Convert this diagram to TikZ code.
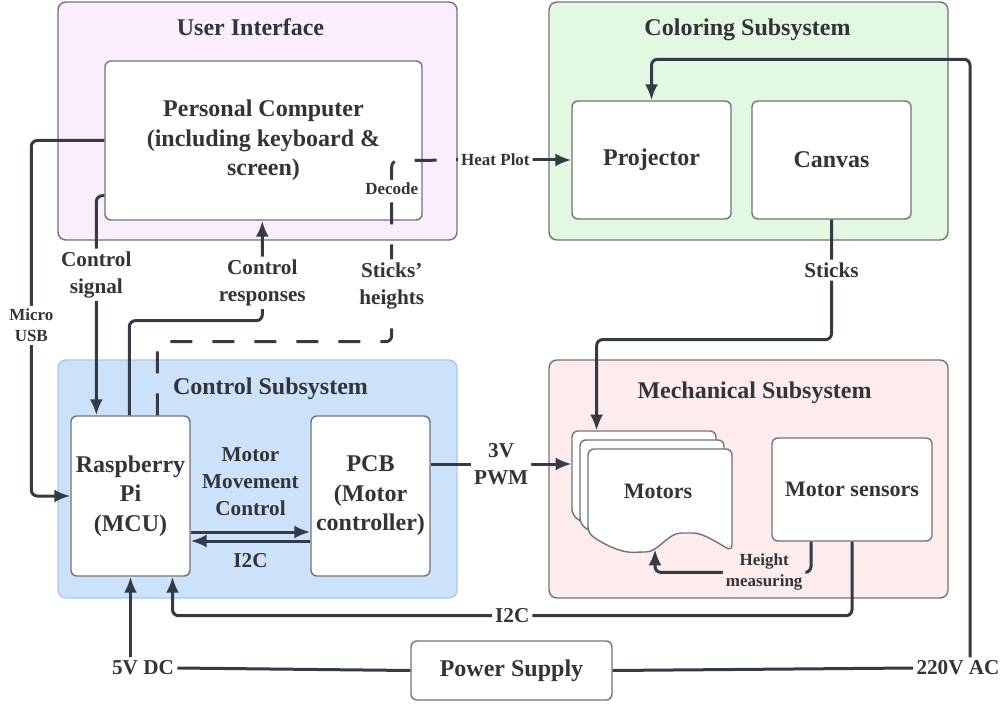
\documentclass[tikz,border=0pt]{standalone}
\usepackage{fontspec}
\setmainfont{Liberation Serif}
\usepackage{xcolor}
\usetikzlibrary{arrows.meta, positioning, calc}
\definecolor{LineDark}  {RGB}{52, 58, 70}
\definecolor{BoxBorder} {RGB}{115,115,115}
\definecolor{TextDark}  {RGB}{50, 52, 58}
\definecolor{UIFill}    {RGB}{248,238,253}
\definecolor{ColorFill} {RGB}{226,248,224}
\definecolor{CtrlFill}  {RGB}{204,226,251}
\definecolor{CtrlBorder}{RGB}{170,200,240}
\definecolor{MechFill}  {RGB}{253,236,235}

% one sheet of the stacked motors symbol, top left corner at (#1,#2)
\newcommand{\motorsheet}[2]{%
  \draw[sheet] (#1,#2+84) -- (#1,#2) -- (#1+144,#2) -- (#1+144,#2+102)
    .. controls (#1+130,#2+94) and (#1+115,#2+84) .. (#1+99,#2+84)
    .. controls (#1+80,#2+84) and (#1+70,#2+103) .. (#1+52,#2+103)
    .. controls (#1+35,#2+104) and (#1+18,#2+97) .. (#1,#2+84) -- cycle;}

\begin{document}
\begin{tikzpicture}[
    x=0.5pt, y=-0.5pt,
    group/.style={draw=BoxBorder, line width=0.7pt, rounded corners=4pt, inner sep=0pt, minimum width=199.5pt, minimum height=119pt},
    grouptitle/.style={text=TextDark, font=\fontsize{12}{14}\selectfont\bfseries},
    block/.style={draw=BoxBorder, fill=white, line width=0.7pt, rounded corners=3pt, inner sep=0pt, align=center, text=TextDark, font=\fontsize{12}{14.8}\selectfont\bfseries},
    sheet/.style={draw=BoxBorder, fill=white, line width=0.7pt, rounded corners=3pt},
    conn/.style={draw=LineDark, line width=1.5pt, rounded corners=3pt},
    arrow/.style={conn, -{Latex[length=8pt,width=6.5pt]}},
    lbl/.style={fill=white, inner sep=1.5pt, align=center, text=TextDark, font=\fontsize{10.6}{13.5}\selectfont\bfseries},
    sml/.style={lbl, font=\fontsize{8.5}{10.5}\selectfont\bfseries}
]
    \useasboundingbox (0,0) rectangle (1004,704);

    % Subsystems
    \node[group, fill=UIFill] (ui) at (257.5,121) {};
    \node[grouptitle] (uititle) at ($(ui.north)+(-7,26)$) {User Interface};
    \node[group, fill=ColorFill] (coloring) at (748.5,121) {};
    \node[grouptitle] (coltitle) at ($(coloring.north)+(-1,29)$) {Coloring Subsystem};
    \node[group, draw=CtrlBorder, fill=CtrlFill] (control) at (257.5,479) {};
    \node[grouptitle] (ctrltitle) at ($(control.north)+(13,29)$) {Control Subsystem};
    \node[group, fill=MechFill] (mech) at (748.5,479) {};
    \node[grouptitle] (mechtitle) at ($(mech.north)+(6,33)$) {Mechanical Subsystem};

    % Blocks
    \node[block, minimum width=158.5pt, minimum height=79.5pt] (pc) at (263.5,140.5) {Personal Computer\\(including keyboard \&\\screen)};
    \node[block, minimum width=79.5pt, minimum height=59pt] (projector) at (651.5,160) {Projector};
    \node[block, minimum width=79.5pt, minimum height=59pt] (canvas) at (831.5,160) {Canvas};
    \node[block, minimum width=59.5pt, minimum height=80pt] (rpi) at (130.5,496) {Raspberry\\Pi\\(MCU)};
    \node[block, minimum width=59.5pt, minimum height=80pt] (pcb) at (370.5,496) {PCB\\(Motor\\controller)};
    \node[block, font=\fontsize{11}{13}\selectfont\bfseries, minimum width=80pt, minimum height=51.5pt] (sensors) at (852,489.5) {Motor sensors};
    \node[block, minimum width=100.5pt, minimum height=29.5pt] (power) at (511.5,670.5) {Power Supply};

    % Motors (stacked sheets)
    \motorsheet{572}{431}
    \motorsheet{580}{440}
    \motorsheet{588}{449}
    \node[inner sep=0pt, text=TextDark, font=\fontsize{11}{13}\selectfont\bfseries, minimum width=80pt, minimum height=60pt] (motors) at (652,491) {\hspace*{6pt}Motors};

    % User interface <-> control
    \draw[arrow] (pc.west) -- ++(-73,0) |- node[sml, pos=0.26] {Micro\\USB} (rpi.west);
    \draw[arrow] ($(pc.south west)+(0,-25)$) -| node[lbl, pos=0.68] {Control\\signal} ($(rpi.north west)+(26,0)$);
    \draw[arrow] ($(rpi.north west)+(59,0)$) |- ($(pc.south west)+(158,100)$) -- node[lbl, pos=0.38] {Control\\responses} ($(pc.south west)+(158,0)$);

    % Sticks' heights -> heat plot
    \coordinate (hp) at ($(projector.west)+(-115,0)$);
    \draw[conn, dash pattern=on 11pt off 10pt] ($(rpi.north west)+(87,0)$) |- ($(pc.south east)+(-31,121)$)
        -- node[lbl, pos=0.31] {Sticks'\\heights} node[sml, pos=0.845] {Decode} ($(pc.south east)+(-31,-60)$) -- (hp);
    \draw[arrow] (hp) -- node[sml, pos=0.34] {Heat Plot} (projector.west);

    % Coloring -> mechanical
    \draw[arrow] (canvas.south) |- node[lbl, pos=0.21] {Sticks} ($(motors.north west)+(25,-91)$) -- ($(motors.north west)+(25,0)$);

    % Control -> mechanical
    \coordinate (pwm) at ($(pcb.east)+(0,-32)$);
    \draw[arrow] (pwm) -- node[lbl] {3V\\PWM} (pwm -| motors.west);
    \draw[arrow] ($(rpi.east)+(0,36)$) -- node[lbl, fill=none, above=6pt] {Motor\\Movement\\Control} ($(pcb.west)+(0,36)$);
    \draw[arrow] ($(pcb.west)+(0,45)$) -- node[lbl, fill=none, below=4pt] {I2C} ($(rpi.east)+(0,45)$);

    % Sensors
    \draw[arrow] ($(sensors.south)+(-41,0)$) |- node[sml, fill=MechFill, pos=0.65] {Height\\measuring} ($(motors.south)+(3,21)$) -- ($(motors.south)+(3,-2)$);
    \draw[arrow] (sensors.south) |- node[lbl, pos=0.75] {I2C} ($(rpi.south)+(42,39)$) -- ($(rpi.south)+(42,0)$);

    % Power
    \node[lbl, fill=none] (dc) at (143,668) {5V DC};
    \node[lbl, fill=none] (ac) at (958,668) {220V AC};
    \draw[conn] (power.west) -- (dc.east);
    \draw[conn] (power.east) -- (ac.west);
    \draw[arrow] (rpi.south |- dc.north) -- (rpi.south);
    \draw[arrow] ($(ac.north)+(12,0)$) |- ($(projector.north)+(0,-41)$) -- (projector.north);

\end{tikzpicture}
\end{document}
